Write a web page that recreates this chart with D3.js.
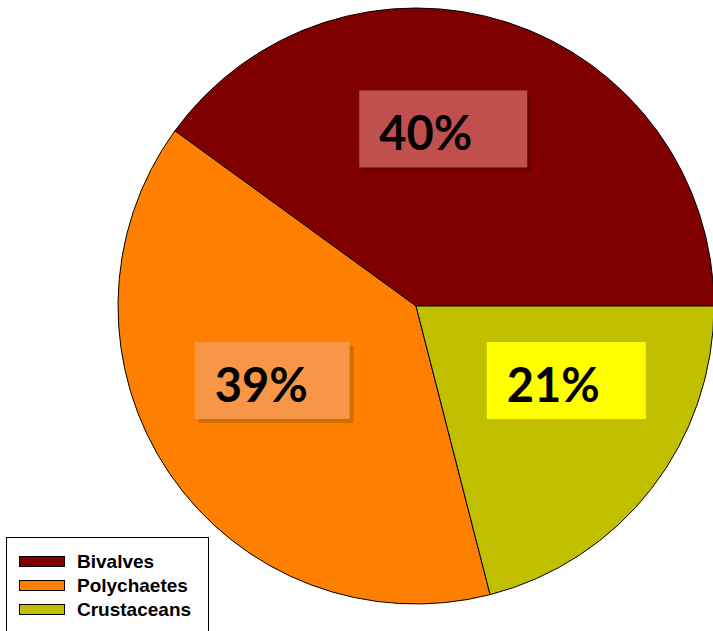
<!DOCTYPE html>
<html lang="en">
<head>
<meta charset="UTF-8">
<script src="https://cdnjs.cloudflare.com/ajax/libs/d3/7.8.5/d3.min.js"></script>
<style>
  body { margin: 0; background: #fff; }
  .pct { font-family: Lato, 'Open Sans', sans-serif; font-weight: bold; font-size: 47px; fill: #000; }
  .legend-text { font-family: 'Liberation Sans', Arial, sans-serif; font-weight: bold; font-size: 19px; fill: #000; }
</style>
</head>
<body>
<svg id="chart"></svg>
<script>
const categories = ['Bivalves', 'Polychaetes', 'Crustaceans']
const values = [40, 39, 21]
const labels = ['40%', '39%', '21%']
const colors = ['#800000', '#ff8000', '#c0c000']
const boxColors = ['#c0504d', '#f79646', '#ffff00']

const W = 713, H = 631
const cx = 416, cy = 306, R = 298

const svg = d3.select('#chart').attr('width', W).attr('height', H)
const g = svg.append('g').attr('transform', 'translate(' + cx + ',' + cy + ')')

// counter clockwise from 3 o'clock
const pie = d3.pie().sort(null)
  .startAngle(Math.PI * 2.5)
  .endAngle(Math.PI * 0.5)
const arcs = pie(values)
const arc = d3.arc().innerRadius(0).outerRadius(R)

g.selectAll('path.slice')
  .data(arcs)
  .enter()
  .append('path')
  .attr('class', 'slice')
  .attr('d', arc)
  .attr('fill', (d, i) => colors[i])
  .attr('stroke', '#000')
  .attr('stroke-width', 1)

// label boxes, nudged from centroid like excel's best fit
const labelArc = d3.arc().innerRadius(0).outerRadius(R * 1.2)
const nudge = [[-28, -7], [4, -26], [9, -35]]
const boxW = [168, 155, 159], boxH = 77
const shadow = [true, true, false]

arcs.forEach((d, i) => {
  const c = labelArc.centroid(d)
  const x = c[0] + nudge[i][0] - boxW[i] / 2
  const y = c[1] + nudge[i][1] - boxH / 2
  if (shadow[i]) {
    g.append('rect')
      .attr('x', x + 4).attr('y', y + 4)
      .attr('width', boxW[i]).attr('height', boxH)
      .attr('fill', '#000').attr('opacity', 0.16)
  }
  g.append('rect')
    .attr('x', x).attr('y', y)
    .attr('width', boxW[i]).attr('height', boxH)
    .attr('fill', boxColors[i])
  g.append('text')
    .attr('class', 'pct')
    .attr('x', x + 20)
    .attr('y', y + 60)
    .text(labels[i])
})

// legend
const leg = svg.append('g')
leg.append('rect')
  .attr('x', 6.5).attr('y', 537.5)
  .attr('width', 202).attr('height', 100)
  .attr('fill', '#fff').attr('stroke', '#000').attr('stroke-width', 1)

const legY = d3.scaleBand().domain(categories).range([549, 621])
categories.forEach((c, i) => {
  const y = legY(c)
  leg.append('rect')
    .attr('x', 19.5).attr('y', y + 7.5)
    .attr('width', 45).attr('height', 10)
    .attr('fill', colors[i]).attr('stroke', '#000').attr('stroke-width', 1)
  leg.append('text')
    .attr('class', 'legend-text')
    .attr('x', 77).attr('y', y + 18.5)
    .text(c)
})
</script>
</body>
</html>
